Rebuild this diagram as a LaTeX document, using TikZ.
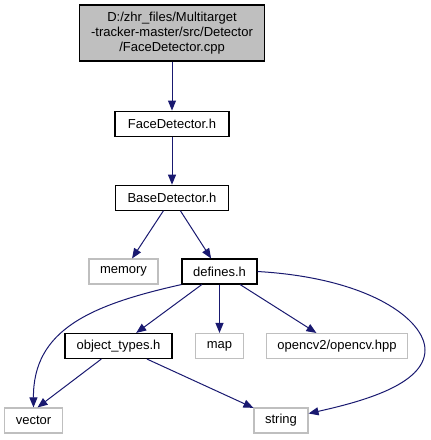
\documentclass[tikz,border=0pt]{standalone}
\usepackage{fontspec}
\setmainfont{Liberation Sans}
\usetikzlibrary{arrows.meta,positioning}
\definecolor{edgeblue}{HTML}{191970}
\definecolor{boxgray}{HTML}{BFBFBF}
\tikzset{
  incbox/.style={draw=black, line width=1.1pt, minimum height=25pt, inner xsep=11pt, inner ysep=0pt, align=center, font=\fontsize{13}{15}\selectfont},
  sysbox/.style={incbox, draw=boxgray},
  rootbox/.style={incbox, fill=boxgray, minimum width=185pt, minimum height=56pt},
  flow/.style={-{Triangle[length=10pt, width=8pt]}, line width=1pt, draw=edgeblue}
}

\begin{document}
\begin{tikzpicture}[x=1pt, y=-1pt]
  \useasboundingbox (0,0) rectangle (431,440);
  \node[rootbox] (root) at (172,33) {D:/zhr\_files/Multitarget\\-tracker-master/src/Detector\\/FaceDetector.cpp};
  \node[incbox, minimum width=114pt, below=49pt of root] (face) {FaceDetector.h};
  \node[incbox, minimum width=113pt, below=48pt of face] (base) {BaseDetector.h};
  \node[sysbox, minimum width=69pt] (memory) at (123.5,271.5) {memory};
  \node[incbox, minimum width=75pt] (defines) at (219.5,271.5) {defines.h};
  \node[incbox, minimum width=107pt] (objtypes) at (118.5,346) {object\_types.h};
  \node[sysbox, minimum width=47pt] (map) at (219.5,346) {map};
  \node[sysbox, minimum width=139pt] (opencv) at (337,346) {opencv2/opencv.hpp};
  \node[sysbox, minimum width=56pt] (vector) at (33.5,420.5) {vector};
  \node[sysbox, minimum width=54pt] (string) at (281,420.5) {string};

  \draw[flow] (root) -- (face);
  \draw[flow] (face) -- (base);
  \draw[flow] (base) -- (memory);
  \draw[flow] (base) -- (defines);
  \draw[flow] (defines.south west) .. controls (90,305) and (33,330) .. (vector.north);
  \draw[flow] (defines) -- (objtypes);
  \draw[flow] (defines) -- (map);
  \draw[flow] (defines) -- (opencv);
  \draw[flow] (defines.east) .. controls (370,278) and (425,320) .. (425,350)
    .. controls (425,385) and (360,402) .. ([yshift=7pt]string.east);
  \draw[flow] (objtypes) -- ([xshift=4pt]vector.north);
  \draw[flow] (objtypes) -- (string);
\end{tikzpicture}
\end{document}
